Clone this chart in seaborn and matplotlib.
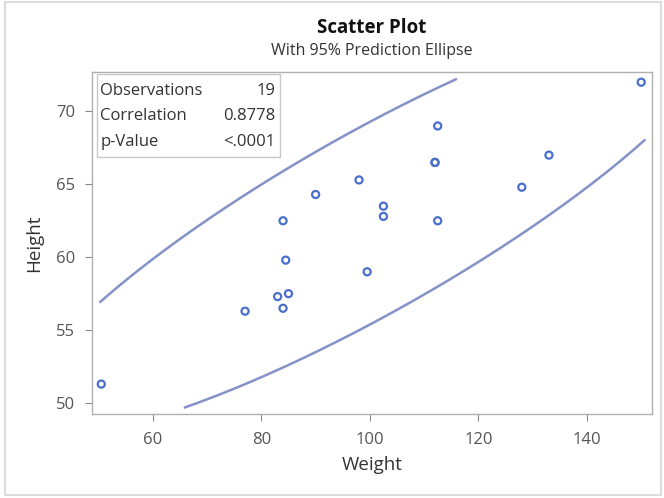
import numpy as np
import pandas as pd
import matplotlib
matplotlib.use("Agg")
import matplotlib.pyplot as plt
from matplotlib.patches import Rectangle
import seaborn as sns

# sashelp.class style data
weight = [112.5, 84.0, 98.0, 102.5, 102.5, 83.0, 84.5, 112.5, 84.0, 99.5,
          50.5, 90.0, 77.0, 112.0, 150.0, 128.0, 133.0, 85.0, 112.0]
height = [69.0, 56.5, 65.3, 62.8, 63.5, 57.3, 59.8, 62.5, 62.5, 59.0,
          51.3, 64.3, 56.3, 66.5, 72.0, 64.8, 67.0, 57.5, 66.5]
x_ticks = [60, 80, 100, 120, 140]
y_ticks = [50, 55, 60, 65, 70]
stat_labels = ["Observations", "Correlation", "p-Value"]
p_value_text = "<.0001"

df = pd.DataFrame({"Weight": weight, "Height": height})

sns.set_theme(style="white")
plt.rcParams['font.family'] = ['Open Sans', 'DejaVu Sans']

marker_col = '#4a6fcb'
ell_col = '#8592c8'
text_col = '#333333'
grey = '#555555'

fig = plt.figure(figsize=(6.64, 4.98), dpi=100)
fig.patches.append(Rectangle((0.007, 0.006), 0.988, 0.99, transform=fig.transFigure,
                             fill=False, ec='#dcdcdc', lw=1.5))
ax = fig.add_axes([0.1386, 0.1687, 0.8434, 0.6867])

# 95% prediction ellipse from mean and covariance
n = len(df)
m = df[["Weight", "Height"]].mean().values
S = np.cov(df["Weight"], df["Height"])
F95 = 3.5915  # F(0.95; 2, 17)
c2 = 2 * (n + 1) * (n - 1) / (n * (n - 2)) * F95
L = np.linalg.cholesky(S)
t = np.linspace(0, 2 * np.pi, 720)
pts = m[:, None] + np.sqrt(c2) * L @ np.vstack([np.cos(t), np.sin(t)])
ex, ey = pts[0].copy(), pts[1].copy()
out = (ex < 50.1) | (ex > 151) | (ey < 49.65) | (ey > 72.25)
ex[out] = np.nan
ey[out] = np.nan
ax.plot(ex, ey, color=ell_col, lw=1.8, solid_capstyle='butt')

sns.scatterplot(data=df, x="Weight", y="Height", ax=ax, s=26, marker='o', zorder=3)
sc = ax.collections[0]
sc.set_facecolor('none')
sc.set_edgecolor(marker_col)
sc.set_linewidth(1.6)

ax.set_xlim(48.8, 152)
ax.set_ylim(49.25, 72.7)
ax.set_xticks(x_ticks)
ax.set_yticks(y_ticks)
ax.tick_params(axis='both', which='both', direction='out', length=5, width=0.8,
               color='#888888', labelsize=12, labelcolor=grey,
               bottom=True, left=True)
ax.tick_params(axis='x', pad=8)
ax.tick_params(axis='y', pad=7)
for sp in ax.spines.values():
    sp.set_color('#b0b0b0')
    sp.set_linewidth(1.0)
ax.set_xlabel("Weight", fontsize=13.5, color=text_col, labelpad=6)
ax.set_ylabel("Height", fontsize=13.5, color=text_col, labelpad=9)

# title block
fig.text(0.560, 0.944, "Scatter Plot", ha='center', va='center', fontsize=13.5,
         fontweight='bold', color='#111111')
fig.text(0.560, 0.897, "With 95% Prediction Ellipse", ha='center', va='center',
         fontsize=11.5, color=text_col)

# statistics inset
r = np.corrcoef(df["Weight"], df["Height"])[0, 1]
stat_values = [f"{n}", f"{r:.4f}", p_value_text]
ax.add_patch(Rectangle((0.008, 0.752), 0.327, 0.243, transform=ax.transAxes,
                       fill=True, fc='white', ec='#c8c8c8', lw=1.0, zorder=4))
row_y = [0.944, 0.871, 0.795]
for lab, val, yy in zip(stat_labels, stat_values, row_y):
    ax.text(0.015, yy, lab, transform=ax.transAxes, ha='left', va='center',
            fontsize=12, color=text_col, zorder=5)
    ax.text(0.327, yy, val, transform=ax.transAxes, ha='right', va='center',
            fontsize=12, color=text_col, zorder=5)

fig.savefig("out.png", dpi=100)
